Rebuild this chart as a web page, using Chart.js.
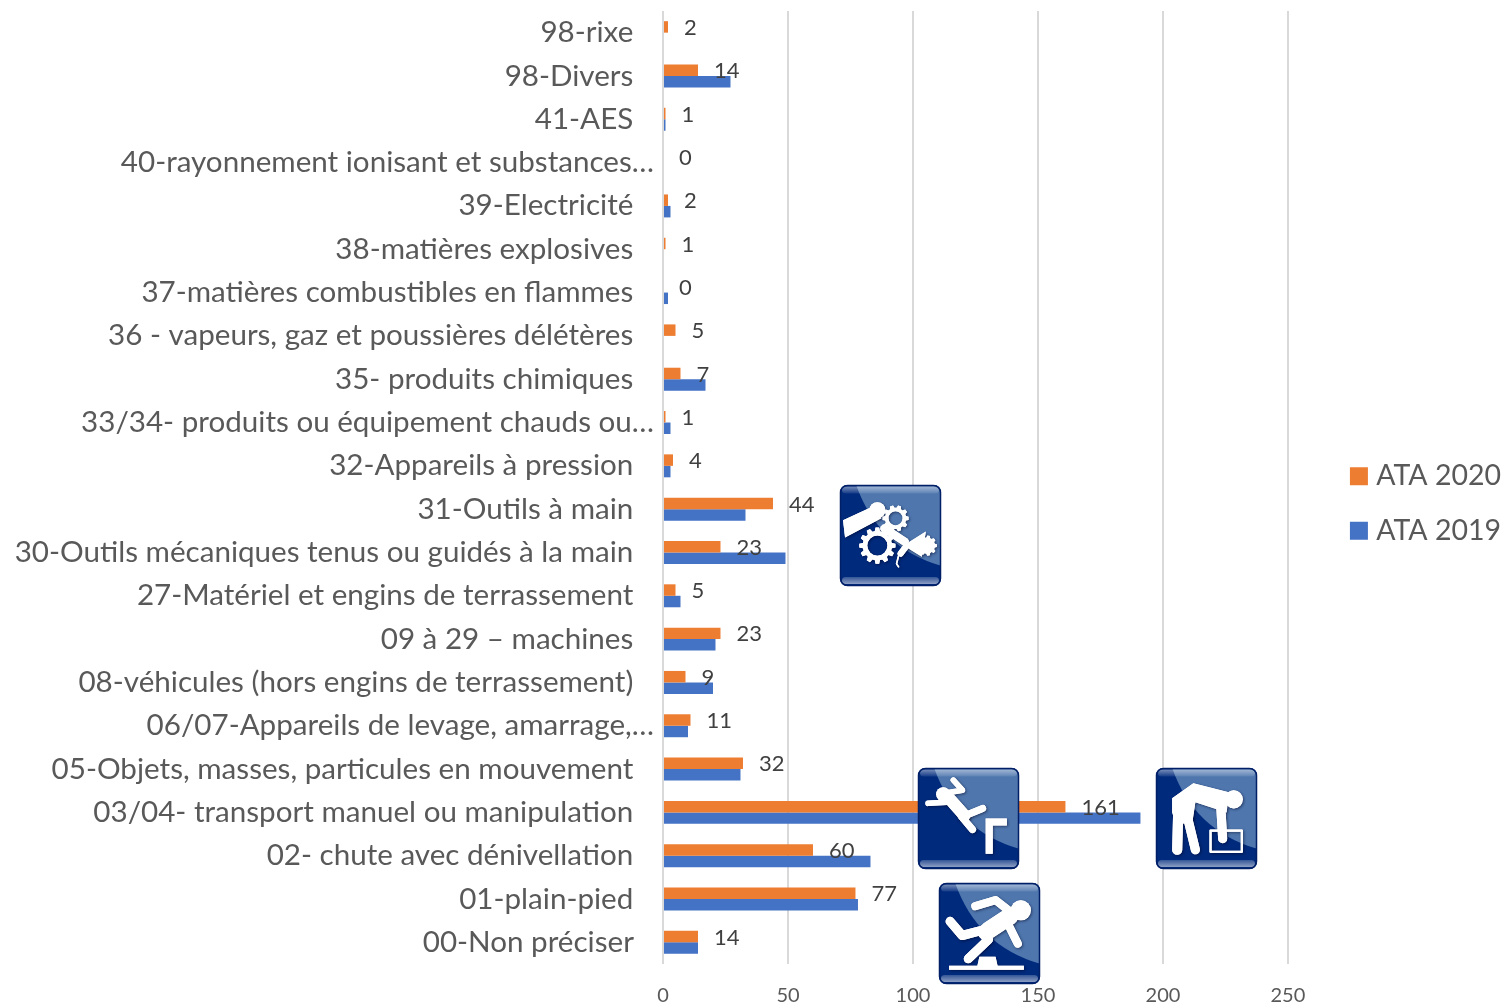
<!DOCTYPE html>
<html><head><meta charset="utf-8">
<style>html,body{margin:0;padding:0;background:#fff}canvas{display:block}</style>
<script src="https://cdn.jsdelivr.net/npm/chart.js@4/dist/chart.umd.min.js"></script>
</head><body><canvas id="c" width="1506" height="1005"></canvas>
<script>
const categories = ["98-rixe","98-Divers","41-AES","40-rayonnement ionisant et substances…","39-Electricité","38-matières explosives","37-matières combustibles en flammes","36 - vapeurs, gaz et poussières délétères","35- produits chimiques","33/34- produits ou équipement chauds ou…","32-Appareils à pression","31-Outils à main","30-Outils mécaniques tenus ou guidés à la main","27-Matériel et engins de terrassement","09 à 29 – machines","08-véhicules (hors engins de terrassement)","06/07-Appareils de levage, amarrage,…","05-Objets, masses, particules en mouvement","03/04- transport manuel ou manipulation","02- chute avec dénivellation","01-plain-pied","00-Non préciser"];
const ata2020 = [2,14,1,0,2,1,0,5,7,1,4,44,23,5,23,9,11,32,161,60,77,14];
const ata2019 = [0,27,1,0,3,0,2,0,17,3,3,33,49,7,21,20,10,31,191,83,78,14];
const xTicks = [0,50,100,150,200,250];

const FONT = 'Lato';
function stroke(ctx, pts, w){ctx.lineWidth=w;ctx.beginPath();pts.forEach((p,i)=>i?ctx.lineTo(p[0],p[1]):ctx.moveTo(p[0],p[1]));ctx.stroke();}
function poly(ctx, pts){ctx.beginPath();pts.forEach((p,i)=>i?ctx.lineTo(p[0],p[1]):ctx.moveTo(p[0],p[1]));ctx.closePath();ctx.fill();}
function disc(ctx,x,y,r){ctx.beginPath();ctx.arc(x,y,r,0,Math.PI*2);ctx.fill();}
function gear(ctx,cx,cy,ro,ri,hole,n){
  ctx.beginPath();
  for(let i=0;i<n;i++){const a=i/n*Math.PI*2,d=Math.PI/n*0.55;
    [[a-d*1.25,ri],[a-d*.7,ro],[a+d*.7,ro],[a+d*1.25,ri]].forEach((q,j)=>{const x=cx+q[1]*Math.cos(q[0]),y=cy+q[1]*Math.sin(q[0]);(i===0&&j===0)?ctx.moveTo(x,y):ctx.lineTo(x,y);});}
  ctx.closePath();ctx.moveTo(cx+hole,cy);ctx.arc(cx,cy,hole,0,Math.PI*2,true);ctx.fill('nonzero');
}
const figures = {
  tools(ctx){
    gear(ctx,55,33,13,10.5,7,10);
    gear(ctx,37,60,18,14.5,10,12);
    poly(ctx,[[3,35],[33,21],[41,33],[5,52]]);disc(ctx,37,25,8);
    stroke(ctx,[[44,43],[64,56]],8);
    gear(ctx,86,60,10,8,0.1,9);
    poly(ctx,[[85,46],[63,60],[81,71]]);
    stroke(ctx,[[66,60],[60,68]],6);
    stroke(ctx,[[58,70],[56,78],[58,81]],1.5);
  },
  fall(ctx){
    disc(ctx,25,26,7);
    stroke(ctx,[[29,28],[46,47]],12);
    stroke(ctx,[[32,24],[44,22],[35,12]],5.5);
    stroke(ctx,[[29,34],[10,35]],5.5);
    stroke(ctx,[[47,47],[64,40]],7);
    stroke(ctx,[[43,48],[54,61]],7);
    poly(ctx,[[67,85],[67,50],[88,50],[88,57],[74,57],[74,85]]);
  },
  lift(ctx){
    disc(ctx,77,31,9);
    poly(ctx,[[16,30],[37,15],[72,24],[70,44],[39,34],[36,54],[20,56],[16,44]]);
    stroke(ctx,[[22,42],[21,81]],10);
    stroke(ctx,[[31,48],[39,81]],9);
    stroke(ctx,[[64,36],[66,70]],9);
    ctx.lineWidth=2.2;ctx.strokeRect(54,62,31,21);
  },
  trip(ctx){
    disc(ctx,81,27,10);
    stroke(ctx,[[70,33],[49,47]],17);
    stroke(ctx,[[36,23],[56,17],[70,28]],8);
    stroke(ctx,[[69,42],[78,60]],8);
    stroke(ctx,[[46,46],[23,52],[11,38]],9);
    stroke(ctx,[[43,50],[49,56],[29,75]],9);
    poly(ctx,[[10,82],[38,82],[40,73],[56,73],[58,82],[84,82],[84,86],[10,86]]);
  }
};
const icons = [
  {fig:'tools',x:840,y:485},
  {fig:'fall',x:918,y:768},
  {fig:'lift',x:1156,y:768},
  {fig:'trip',x:939,y:883}
];
function drawIcon(ctx,ic){
  ctx.save();
  ctx.translate(ic.x,ic.y);ctx.scale(1.01,1.01);
  ctx.beginPath();ctx.roundRect(0,0,100,100,7);ctx.fillStyle='#002a7c';ctx.fill();
  ctx.clip();
  ctx.fillStyle='#4f77ae';
  ctx.beginPath();ctx.moveTo(16,0);ctx.quadraticCurveTo(38,62,100,80);ctx.lineTo(100,0);ctx.closePath();ctx.fill();
  let g=ctx.createLinearGradient(0,0,0,9);g.addColorStop(0,'rgba(255,255,255,.55)');g.addColorStop(1,'rgba(255,255,255,.05)');
  ctx.fillStyle=g;ctx.beginPath();ctx.roundRect(2,1.5,96,7,4);ctx.fill();
  g=ctx.createLinearGradient(0,91,0,99);g.addColorStop(0,'rgba(255,255,255,.2)');g.addColorStop(1,'rgba(255,255,255,.6)');
  ctx.fillStyle=g;ctx.beginPath();ctx.roundRect(2,91,96,7,4);ctx.fill();
  ctx.fillStyle='#fff';ctx.strokeStyle='#fff';ctx.lineCap='round';ctx.lineJoin='round';
  ctx.shadowColor='rgba(0,0,30,.55)';ctx.shadowBlur=3;ctx.shadowOffsetX=1;ctx.shadowOffsetY=1;
  figures[ic.fig](ctx);
  ctx.shadowColor='transparent';
  figures[ic.fig](ctx);
  ctx.restore();
  ctx.save();ctx.beginPath();ctx.roundRect(ic.x+.5,ic.y+.5,100,100,7);ctx.strokeStyle='#001f66';ctx.lineWidth=1.5;ctx.stroke();ctx.restore();
}
const LEGEND_SHIFT = 5;
const LEGEND_DROP = 2;
const overlay = {
  id:'overlay',
  afterLayout(chart){chart.legend.left+=LEGEND_SHIFT;chart.legend.top+=LEGEND_DROP;},
  afterDatasetsDraw(chart){
    const ctx=chart.ctx,meta=chart.getDatasetMeta(0);
    ctx.save();ctx.font='22px '+FONT;ctx.fillStyle='#404040';ctx.textAlign='left';ctx.textBaseline='middle';
    meta.data.forEach((bar,i)=>{ctx.fillText(String(ata2020[i]),bar.x+16,bar.y+1);});
    ctx.restore();
  },
  afterDraw(chart){icons.forEach(ic=>drawIcon(chart.ctx,ic));}
};
new Chart(document.getElementById('c'),{
  type:'bar',
  data:{labels:categories,datasets:[
    {label:'ATA 2020',data:ata2020,backgroundColor:'#ED7D31',borderWidth:0,categoryPercentage:0.53,barPercentage:1},
    {label:'ATA 2019',data:ata2019,backgroundColor:'#4472C4',borderWidth:0,categoryPercentage:0.53,barPercentage:1}
  ]},
  options:{
    indexAxis:'y',responsive:false,animation:false,devicePixelRatio:1,
    layout:{padding:0},
    plugins:{
      tooltip:{enabled:false},
      legend:{position:'right',labels:{
        font:{family:FONT,size:28.5},color:'#595959',boxWidth:6,boxHeight:6,padding:26,
        generateLabels(chart){return Chart.defaults.plugins.legend.labels.generateLabels(chart).map(it=>Object.assign(it,{lineWidth:12,strokeStyle:it.fillStyle,lineJoin:'miter'}));}
      }}
    },
    scales:{
      y:{
        afterFit(s){s.width=663;s.paddingTop=11;s.paddingBottom=0;},
        grid:{display:false},border:{display:false},
        ticks:{autoSkip:false,color:'#595959',font:{family:FONT,size:29.6},padding:1,
          callback(v){const t=categories[v];return t.endsWith('…')?t:t+'\u00A0\u00A0\u2009\u200A';}}
      },
      x:{
        min:0,max:264.8,
        afterFit(s){s.height=41;s.paddingLeft=0;s.paddingRight=0;},
        afterBuildTicks(s){s.ticks=xTicks.map(v=>({value:v}));},
        grid:{color:'#D9D9D9',lineWidth:2,drawTicks:false},border:{display:false},
        ticks:{color:'#595959',font:{family:FONT,size:20},padding:20,maxRotation:0}
      }
    }
  },
  plugins:[overlay]
});
</script></body></html>
